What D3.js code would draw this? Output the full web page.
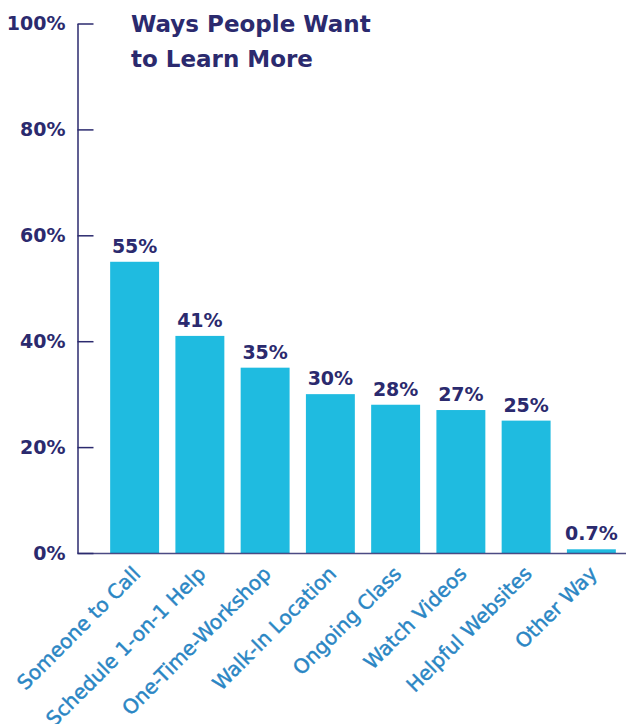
<!DOCTYPE html>
<html>
<head>
<meta charset="utf-8">
<script src="https://cdn.jsdelivr.net/npm/d3@7"></script>
<style>
  html, body { margin: 0; padding: 0; background: #ffffff; }
  svg { display: block; }
</style>
</head>
<body>
<svg id="chart" width="626" height="724"></svg>
<script>
// Survey responses: preferred ways to learn more
const categories = [
  "Someone to Call",
  "Schedule 1-on-1 Help",
  "One-Time-Workshop",
  "Walk-In Location",
  "Ongoing Class",
  "Watch Videos",
  "Helpful Websites",
  "Other Way"
];
const shares = [55, 41, 35, 30, 28, 27, 25, 0.7];
const shareLabels = ["55%", "41%", "35%", "30%", "28%", "27%", "25%", "0.7%"];
const yTicks = [0, 20, 40, 60, 80, 100];
const titleLines = ["Ways People Want", "to Learn More"];

const navy = "#2b2a6e";
const barFill = "#1fbbe0";
const catBlue = "#2a86c4";
const fontFamily = "'DejaVu Sans', sans-serif";

const svg = d3.select("#chart");
const W = 626;

const x = d3.scaleBand()
  .domain(categories)
  .range([102, 624])
  .paddingInner(0.25)
  .paddingOuter(0.125);

const y = d3.scaleLinear()
  .domain([0, 100])
  .range([553, 23.5]);

// bars
svg.append("g")
  .selectAll("rect")
  .data(shares)
  .join("rect")
  .attr("x", (d, i) => x(categories[i]))
  .attr("width", x.bandwidth())
  .attr("y", d => y(d))
  .attr("height", d => y(0) - y(d))
  .attr("fill", barFill);

// value labels above bars
svg.append("g")
  .selectAll("text")
  .data(shares)
  .join("text")
  .attr("x", (d, i) => x(categories[i]) + x.bandwidth() / 2)
  .attr("y", d => y(d) - 9)
  .attr("text-anchor", "middle")
  .attr("font-family", fontFamily)
  .attr("font-weight", "bold")
  .attr("font-size", 19)
  .attr("fill", navy)
  .text((d, i) => shareLabels[i]);

// y axis with inward ticks
const yAxis = d3.axisLeft(y)
  .tickValues(yTicks)
  .tickFormat(d => d + "%")
  .tickSizeInner(-16)
  .tickSizeOuter(0)
  .tickPadding(12);

const gy = svg.append("g")
  .attr("transform", "translate(77.5,0)")
  .call(yAxis);
gy.select(".domain").attr("stroke", navy).attr("stroke-width", 1.5);
gy.selectAll(".tick line").attr("stroke", navy).attr("stroke-width", 1.5);
gy.selectAll(".tick text")
  .attr("font-family", fontFamily)
  .attr("font-weight", "bold")
  .attr("font-size", 19)
  .attr("fill", navy);

// baseline
svg.append("line")
  .attr("x1", 77.5)
  .attr("x2", W)
  .attr("y1", y(0) + 0.5)
  .attr("y2", y(0) + 0.5)
  .attr("stroke", navy)
  .attr("stroke-opacity", 0.85)
  .attr("stroke-width", 1.5);

// rotated category labels
svg.append("g")
  .selectAll("text")
  .data(categories)
  .join("text")
  .attr("transform", d => `translate(${x(d) + x.bandwidth() / 2 + 7},${y(0) + 22}) rotate(-45)`)
  .attr("text-anchor", "end")
  .attr("font-family", fontFamily)
  .attr("font-size", 20)
  .attr("fill", catBlue)
  .attr("stroke", catBlue)
  .attr("stroke-width", 0.45)
  .text(d => d);

// title
svg.append("g")
  .selectAll("text")
  .data(titleLines)
  .join("text")
  .attr("x", 131)
  .attr("y", (d, i) => 32 + i * 35)
  .attr("font-family", fontFamily)
  .attr("font-weight", "bold")
  .attr("font-size", 23)
  .attr("fill", navy)
  .text(d => d);
</script>
</body>
</html>
